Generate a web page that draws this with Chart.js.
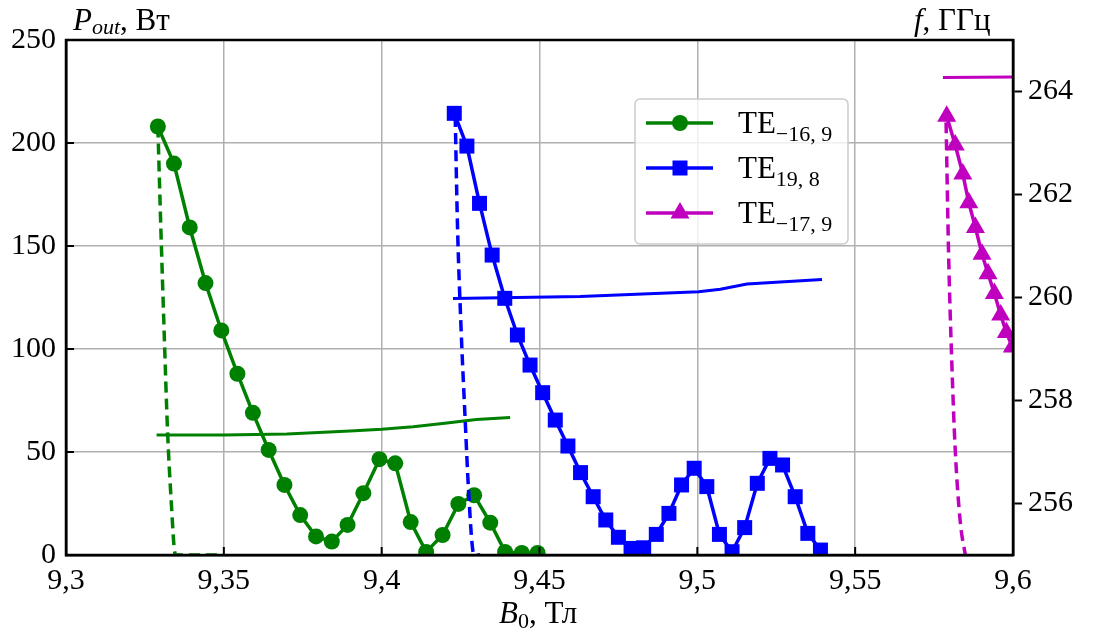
<!DOCTYPE html>
<html lang="ru">
<head>
<meta charset="UTF-8">
<title>Pout и f от B0</title>
<script src="https://cdn.jsdelivr.net/npm/chart.js@4.4.0/dist/chart.umd.min.js"></script>
<style>
  html, body { margin: 0; padding: 0; background: #fff; }
</style>
</head>
<body>
<canvas id="chart" width="1093" height="637"></canvas>
<script>
// --- data ---
// TE-16,9 (green, circles): output power, W
const bGreen = [9.3291, 9.3342, 9.3392, 9.3442, 9.3492, 9.3543, 9.3592, 9.3642, 9.3692, 9.3742,
                9.3792, 9.3842, 9.3892, 9.3942, 9.3993, 9.4043, 9.4092, 9.4141, 9.4193, 9.4243,
                9.4293, 9.4344, 9.4391, 9.4444, 9.4494];
const pGreen = [208, 190, 159, 132, 109, 88, 69, 51, 34, 19.4,
                9, 6.5, 14.6, 30, 46.5, 44.5, 16, 1.5, 9.7, 24.8,
                29, 15.7, 1.5, 1, 1];
// TE19,8 (blue, squares)
const bBlue = [9.423, 9.427, 9.431, 9.435, 9.439, 9.443, 9.447, 9.451, 9.455, 9.459,
               9.463, 9.467, 9.471, 9.475, 9.479, 9.483, 9.487, 9.491, 9.495, 9.499,
               9.503, 9.507, 9.511, 9.515, 9.519, 9.523, 9.527, 9.531, 9.535, 9.539];
const pBlue = [214.4, 198.5, 170.7, 145.6, 124.6, 106.8, 92.2, 78.8, 65.5, 52.9,
               40, 28.3, 17, 8.6, 3.2, 3.5, 10, 20.2, 34, 42.1,
               33.2, 10, 1.6, 13.3, 34.8, 46.9, 43.7, 28.3, 10.5, 2.4];
// TE-17,9 (magenta, triangles)
const bMag = [9.579, 9.5817, 9.5841, 9.586, 9.5881, 9.5902, 9.5921, 9.5941, 9.5961, 9.5979, 9.5998];
const pMag = [213, 199, 185, 171, 159, 146, 136.5, 127, 116.5, 108, 101];

// dashed curves (left axis)
const bGreenDash = [9.3291, 9.3301, 9.3311, 9.3322, 9.3333, 9.3345, 9.335, 9.35];
const pGreenDash = [208, 156, 108, 59, 27, 1, 0, 0];
const bBlueDash = [9.4233, 9.424, 9.4251, 9.4265, 9.4275, 9.4289, 9.4295, 9.4312];
const pBlueDash = [213, 161, 112, 64, 32, 2, 0, 0];
const bMagDash = [9.5788, 9.5796, 9.5806, 9.5817, 9.5833, 9.5849];
const pMagDash = [210, 146, 94, 51, 16, 0];

// frequency, GHz (right axis)
const bGreenF = [9.3287, 9.35, 9.37, 9.39, 9.40, 9.41, 9.42, 9.43, 9.4407];
const fGreen = [257.33, 257.33, 257.35, 257.41, 257.44, 257.49, 257.56, 257.63, 257.67];
const bBlueF = [9.4226, 9.4629, 9.5004, 9.5073, 9.5157, 9.5395];
const fBlue = [259.98, 260.02, 260.11, 260.16, 260.26, 260.35];
const bMagF = [9.5778, 9.6];
const fMag = [264.27, 264.28];

// ticks
const xTicks = [9.3, 9.35, 9.4, 9.45, 9.5, 9.55, 9.6];
const pTicks = [0, 50, 100, 150, 200, 250];
const fTicks = [256, 258, 260, 262, 264];

const GREEN = '#008000', BLUE = '#0000ff', MAG = '#bf00bf';
const SERIF = '"Liberation Serif", "DejaVu Serif", serif';
Chart.defaults.font.family = SERIF;

function pts(xs, ys) { return xs.map((x, i) => ({ x: x, y: ys[i] })); }

function markerSet(label, xs, ys, color, style, radius) {
    return {
        label: label, data: pts(xs, ys), yAxisID: 'y',
        borderColor: color, backgroundColor: color, borderWidth: 3.5,
        pointStyle: style, pointRadius: radius, pointBorderWidth: 0,
        pointBackgroundColor: color, clip: 0, order: 1
    };
}
function dashSet(xs, ys, color) {
    return {
        data: pts(xs, ys), yAxisID: 'y', borderColor: color, borderWidth: 3.5,
        borderDash: [11, 6], pointRadius: 0, cubicInterpolationMode: 'monotone',
        clip: 0, order: 0
    };
}
function freqSet(xs, ys, color) {
    return {
        data: pts(xs, ys), yAxisID: 'y2', borderColor: color, borderWidth: 3,
        pointRadius: 0, tension: 0, clip: 0, order: 2
    };
}

const legendItems = [
    { color: GREEN, style: 'circle', main: 'TE', sub: '\u221216, 9' },
    { color: BLUE, style: 'rect', main: 'TE', sub: '19, 8' },
    { color: MAG, style: 'triangle', main: 'TE', sub: '\u221217, 9' }
];

function drawMarker(ctx, style, x, y, color) {
    ctx.fillStyle = color;
    ctx.beginPath();
    if (style === 'circle') {
        ctx.arc(x, y, 8, 0, Math.PI * 2);
    } else if (style === 'rect') {
        ctx.rect(x - 7.5, y - 7.5, 15, 15);
    } else {
        ctx.moveTo(x, y - 11);
        ctx.lineTo(x + 9.5, y + 5.5);
        ctx.lineTo(x - 9.5, y + 5.5);
        ctx.closePath();
    }
    ctx.fill();
}

// draws the text with a subscript part, returns end x
function subText(ctx, x, y, parts) {
    parts.forEach(p => {
        ctx.font = p.font;
        ctx.fillText(p.t, x, y + (p.dy || 0));
        x += ctx.measureText(p.t).width + (p.gap || 0);
    });
    return x;
}

const overlay = {
    id: 'overlay',
    afterDatasetsDraw(chart) {
        const { ctx, chartArea: a, scales } = chart;
        ctx.save();
        // inner ticks on bottom and left
        ctx.strokeStyle = '#000';
        ctx.lineWidth = 2;
        ctx.beginPath();
        xTicks.forEach(v => {
            const px = scales.x.getPixelForValue(v);
            ctx.moveTo(px, a.bottom); ctx.lineTo(px, a.bottom - 8);
        });
        pTicks.forEach(v => {
            const py = scales.y.getPixelForValue(v);
            ctx.moveTo(a.left, py); ctx.lineTo(a.left + 8, py);
        });
        ctx.stroke();
        // frame
        ctx.lineWidth = 2.5;
        ctx.strokeRect(a.left, a.top, a.right - a.left, a.bottom - a.top);
        ctx.restore();
    },
    afterDraw(chart) {
        const { ctx } = chart;
        ctx.save();
        ctx.fillStyle = '#000';
        ctx.textBaseline = 'alphabetic';
        // axis titles
        subText(ctx, 73, 30, [
            { t: 'P', font: 'italic 31px ' + SERIF },
            { t: 'out', font: 'italic 22px ' + SERIF, dy: 4 },
            { t: ', Вт', font: '31px ' + SERIF }
        ]);
        subText(ctx, 914, 30, [
            { t: 'f', font: 'italic 31px ' + SERIF },
            { t: ', ГГц', font: '31px ' + SERIF }
        ]);
        subText(ctx, 499, 623, [
            { t: 'B', font: 'italic 31px ' + SERIF },
            { t: '0', font: '22px ' + SERIF, dy: 5 },
            { t: ', Тл', font: '31px ' + SERIF }
        ]);

        // legend box
        const lx = 635, ly = 99, lw = 213, lh = 145;
        ctx.fillStyle = 'rgba(255,255,255,0.8)';
        ctx.strokeStyle = '#cccccc';
        ctx.lineWidth = 1.5;
        ctx.beginPath();
        ctx.roundRect(lx, ly, lw, lh, 5);
        ctx.fill();
        ctx.stroke();
        legendItems.forEach((it, i) => {
            const y = 123 + i * 45;
            ctx.strokeStyle = it.color;
            ctx.lineWidth = 3.5;
            ctx.beginPath();
            ctx.moveTo(646, y); ctx.lineTo(713, y);
            ctx.stroke();
            drawMarker(ctx, it.style, 680, y, it.color);
            ctx.fillStyle = '#000';
            subText(ctx, 738, y + 10, [
                { t: it.main, font: '31px ' + SERIF },
                { t: it.sub, font: '22px ' + SERIF, dy: 8 }
            ]);
        });
        ctx.restore();
    }
};

const tickFont = { family: SERIF, size: 30 };

new Chart(document.getElementById('chart'), {
    type: 'line',
    data: {
        datasets: [
            dashSet(bGreenDash, pGreenDash, GREEN),
            dashSet(bBlueDash, pBlueDash, BLUE),
            dashSet(bMagDash, pMagDash, MAG),
            markerSet('TE\u221216,9', bGreen, pGreen, GREEN, 'circle', 8),
            markerSet('TE19,8', bBlue, pBlue, BLUE, 'rect', 10.6),
            markerSet('TE\u221217,9', bMag, pMag, MAG, 'triangle', 11),
            freqSet(bGreenF, fGreen, GREEN),
            freqSet(bBlueF, fBlue, BLUE),
            freqSet(bMagF, fMag, MAG)
        ]
    },
    options: {
        responsive: false,
        animation: false,
        layout: { padding: { top: 40, left: 0, right: 0, bottom: 0 } },
        plugins: { legend: { display: false }, tooltip: { enabled: false } },
        scales: {
            x: {
                type: 'linear', min: 9.3, max: 9.6,
                afterBuildTicks: s => { s.ticks = xTicks.map(v => ({ value: v })); },
                afterFit: s => { s.height = 82; },
                ticks: {
                    color: '#000', font: tickFont, padding: 8, maxRotation: 0,
                    callback: v => (Math.round(v * 100) / 100).toString().replace('.', ',')
                },
                grid: { color: '#b0b0b0', lineWidth: 1.5, drawTicks: false },
                border: { color: '#000', width: 2.5 }
            },
            y: {
                position: 'left', min: 0, max: 250,
                afterBuildTicks: s => { s.ticks = pTicks.map(v => ({ value: v })); },
                afterFit: s => { s.width = 66; },
                ticks: { color: '#000', font: tickFont, padding: 10 },
                grid: { color: '#b0b0b0', lineWidth: 1.5, drawTicks: false },
                border: { color: '#000', width: 2.5 }
            },
            y2: {
                position: 'right', min: 255, max: 265,
                afterBuildTicks: s => { s.ticks = fTicks.map(v => ({ value: v })); },
                afterFit: s => { s.width = 80; },
                ticks: { color: '#000', font: tickFont, padding: 6 },
                grid: { drawOnChartArea: false, drawTicks: true, tickLength: 9, tickColor: '#000', tickWidth: 2 },
                border: { color: '#000', width: 2.5 }
            }
        }
    },
    plugins: [overlay]
});
</script>
</body>
</html>
